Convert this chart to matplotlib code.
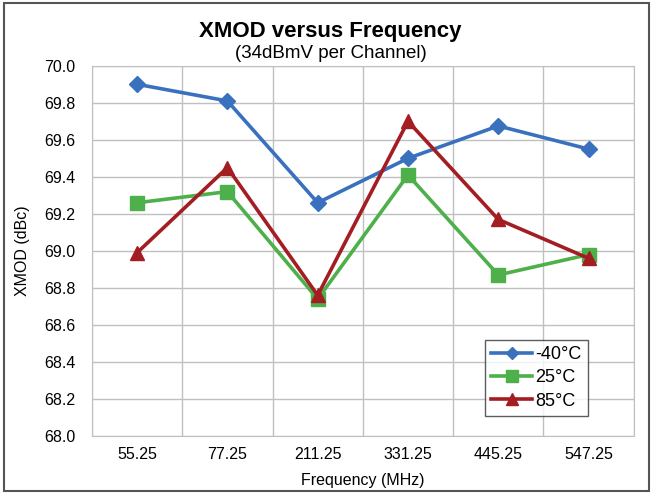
import numpy as np
import matplotlib.pyplot as plt

plt.rcParams['font.family'] = ['Liberation Sans', 'DejaVu Sans']

freqs = ['55.25', '77.25', '211.25', '331.25', '445.25', '547.25']
xmod_m40 = [69.90, 69.81, 69.26, 69.50, 69.675, 69.55]
xmod_25 = [69.26, 69.32, 68.74, 69.41, 68.87, 68.98]
xmod_85 = [68.99, 69.45, 68.76, 69.70, 69.17, 68.96]

fig = plt.figure(figsize=(6.52, 4.93), dpi=100)
ax = fig.add_axes([0.141, 0.1156, 0.831, 0.751])

x = np.arange(len(freqs))
ax.plot(x, xmod_m40, color='#3a71bf', lw=2.6, marker='D', ms=8, label='-40°C', zorder=3)
ax.plot(x, xmod_25, color='#4db04a', lw=2.6, marker='s', ms=10, label='25°C', zorder=3)
ax.plot(x, xmod_85, color='#a31d23', lw=2.6, marker='^', ms=10, label='85°C', zorder=4)

ax.set_xlim(-0.5, len(freqs) - 0.5)
ax.set_ylim(68.0, 70.0)
yt = np.arange(68.0, 70.01, 0.2)
ax.set_yticks(yt)
ax.set_yticklabels([f'{v:.1f}' for v in yt])
ax.set_xticks(x)
ax.set_xticklabels(freqs)
ax.set_xticks(np.arange(-0.5, len(freqs), 1.0), minor=True)
ax.grid(True, which='minor', axis='x', color='#c0c0c0', lw=1)
ax.grid(True, which='major', axis='y', color='#c0c0c0', lw=1)
ax.set_axisbelow(True)
ax.tick_params(which='both', length=0, labelsize=11.5)
ax.tick_params(axis='y', pad=12)
ax.tick_params(axis='x', pad=8)
for s in ax.spines.values():
    s.set_color('#c0c0c0')

ax.set_xlabel('Frequency (MHz)', fontsize=11.5, labelpad=8)
ax.set_ylabel('XMOD (dBc)', fontsize=11.5, labelpad=10)

fig.text(0.507, 0.937, 'XMOD versus Frequency', ha='center', va='center',
         fontsize=16, fontweight='bold')
fig.text(0.507, 0.891, '(34dBmV per Channel)', ha='center', va='center', fontsize=13.5)

leg = ax.legend(loc='lower right', bbox_to_anchor=(0.915, 0.054), fontsize=13,
                frameon=True, fancybox=False, handlelength=2.3, handletextpad=0.15,
                borderpad=0.35, labelspacing=0.35, markerscale=0.8, borderaxespad=0)
leg.get_frame().set_edgecolor('#333333')
leg.get_frame().set_linewidth(1.0)

fig.patches.append(plt.Rectangle((0.006, 0.004), 0.99, 0.99, transform=fig.transFigure,
                                 fill=False, edgecolor='#555555', lw=1.5))

fig.savefig('out.png', dpi=100)
